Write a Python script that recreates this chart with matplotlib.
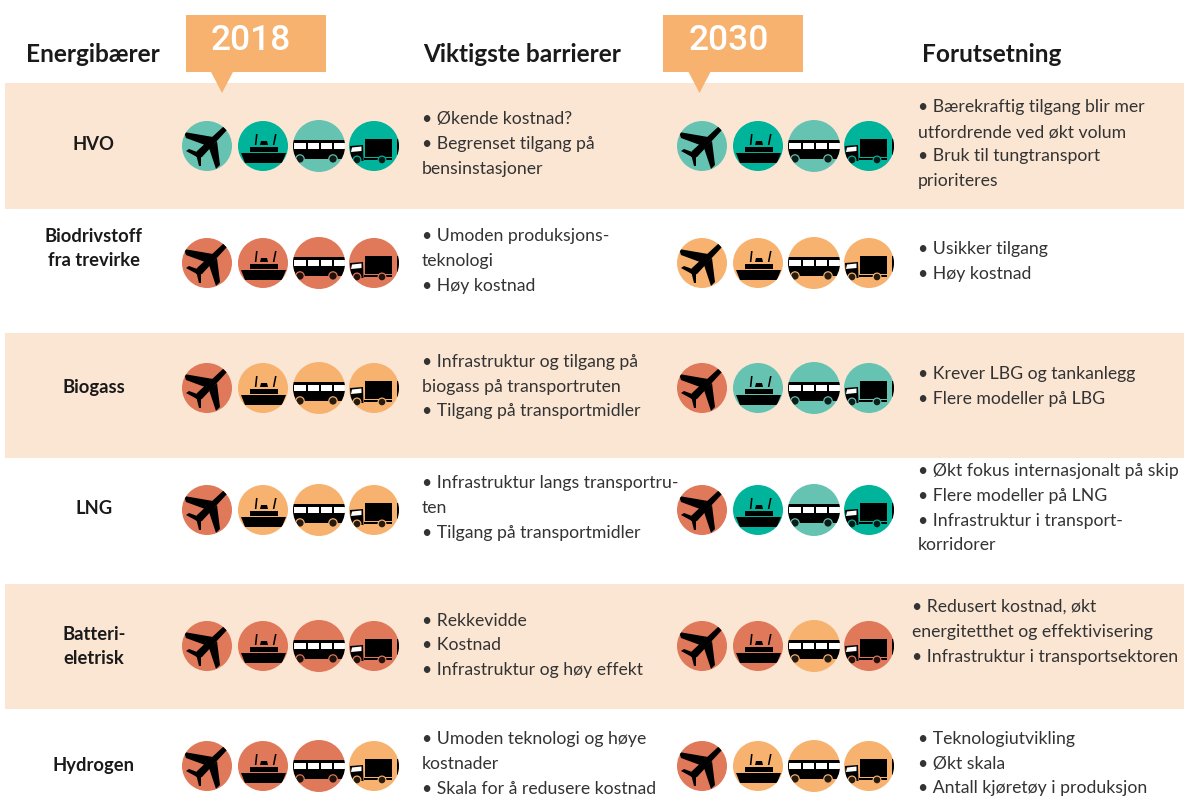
#!/usr/bin/env python3
import matplotlib

matplotlib.use("Agg")
import matplotlib.pyplot as plt
from matplotlib.patches import Circle, Polygon, Rectangle

plt.rcParams["font.family"] = ["Lato", "DejaVu Sans"]

# colours
L = "#66C3B1"  # light teal
T = "#00B39B"  # teal
O = "#F7B26F"  # orange
R = "#E0785A"  # red
BAND = "#FBE6D4"

carriers = ["HVO", "Biodrivstoff\nfra trevirke", "Biogass", "LNG", "Batteri-\neletrisk", "Hydrogen"]
carrier_y = [144, 248, 386, 508, 645, 764]

row_y = [146, 263, 388, 510, 646, 766]
colors_2018 = ["LTLT", "RRRR", "ROOO", "ROOO", "RRRR", "RRRO"]
colors_2030 = ["LTLT", "OOOO", "RLLL", "RTLT", "RROR", "ROOO"]

barriers = [
    (422, 118, "• Økende kostnad?"),
    (422, 143, "• Begrenset tilgang på"),
    (422, 168, "bensinstasjoner"),
    (422, 235, "• Umoden produksjons-"),
    (422, 260, "teknologi"),
    (422, 285, "• Høy kostnad"),
    (422, 361, "• Infrastruktur og tilgang på"),
    (422, 386, "biogass på transportruten"),
    (422, 410, "• Tilgang på transportmidler"),
    (422, 482, "• Infrastruktur langs transportru-"),
    (422, 507, "ten"),
    (422, 532, "• Tilgang på transportmidler"),
    (422, 620, "• Rekkevidde"),
    (422, 644, "• Kostnad"),
    (422, 669, "• Infrastruktur og høy effekt"),
    (422, 738, "• Umoden teknologi og høye"),
    (422, 763, "kostnader"),
    (422, 788, "• Skala for å redusere kostnad"),
]
premises = [
    (918, 106, "• Bærekraftig tilgang blir mer"),
    (918, 131, "utfordrende ved økt volum"),
    (918, 155, "• Bruk til tungtransport"),
    (918, 180, "prioriteres"),
    (918, 248, "• Usikker tilgang"),
    (918, 273, "• Høy kostnad"),
    (918, 373, "• Krever LBG og tankanlegg"),
    (918, 398, "• Flere modeller på LBG"),
    (918, 470, "• Økt fokus internasjonalt på skip"),
    (918, 495, "• Flere modeller på LNG"),
    (918, 520, "• Infrastruktur i transport-"),
    (918, 544, "korridorer"),
    (912, 606, "• Redusert kostnad, økt"),
    (912, 631, "energitetthet og effektivisering"),
    (912, 656, "• Infrastruktur i transportsektoren"),
    (918, 738, "• Teknologiutvikling"),
    (918, 763, "• Økt skala"),
    (918, 787, "• Antall kjøretøy i produksjon"),
]
headers = [(26, "Energibærer"), (423, "Viktigste barrierer"), (922, "Forutsetning")]

COLS = {"L": L, "T": T, "O": O, "R": R}

fig = plt.figure(figsize=(11.84, 7.96), dpi=100)
ax = fig.add_axes([0, 0, 1, 1])
ax.set_xlim(0, 1184)
ax.set_ylim(796, 0)
ax.axis("off")


def poly(pts, cx, cy, clip, color="black", z=3):
    p = Polygon([(cx + x, cy + y) for x, y in pts], closed=True, fc=color, ec="none", zorder=z)
    ax.add_patch(p)
    p.set_clip_path(clip)
    return p


def rect(x, y, w, h, cx, cy, clip, color="black", z=3):
    p = Rectangle((cx + x, cy + y), w, h, fc=color, ec="none", zorder=z)
    ax.add_patch(p)
    p.set_clip_path(clip)
    return p


def wheel(x, y, r, cx, cy, clip, color):
    # coloured ring cut out of the body, dark hub inside
    a = Circle((cx + x, cy + y), r + 1.2, fc=color, ec="none", zorder=5)
    b = Circle((cx + x, cy + y), r, fc="black", ec="none", alpha=0.85, zorder=6)
    ax.add_patch(a)
    ax.add_patch(b)
    a.set_clip_path(clip)
    b.set_clip_path(clip)


def plane(cx, cy, color):
    c = Circle((cx, cy), 25, fc=color, ec="none", zorder=2)
    ax.add_patch(c)
    poly([(16, -19), (19, -19), (20, -16), (-5, 11), (-9, 12), (-12, 9), (-10, 5)], cx, cy, c)
    poly([(-23, -14), (-21, -8), (-2, -1), (6, -9)], cx, cy, c)
    poly([(2, 2), (10, -5), (13, 19), (9, 23)], cx, cy, c)
    poly([(-21, 5), (-18, 3), (-7, 7), (-10, 11)], cx, cy, c)
    poly([(-11, 8), (-6, 11), (-6, 20), (-8, 20)], cx, cy, c)


def ship(cx, cy, color):
    c = Circle((cx, cy), 25, fc=color, ec="none", zorder=2)
    ax.add_patch(c)
    poly([(-22, 7), (23, 7), (19, 17), (-18, 17)], cx, cy, c)
    rect(-13, 1, 28, 4.5, cx, cy, c)
    poly([(-3, -1), (-2, -5), (4, -5), (5, -1)], cx, cy, c)
    poly([(-7, -12), (-5.4, -12), (-6.6, -1), (-8.2, -1)], cx, cy, c)
    poly([(12, -12), (13.6, -12), (11.4, -1), (9.8, -1)], cx, cy, c)


def bus(cx, cy, color):
    c = Circle((cx, cy), 26, fc=color, ec="none", zorder=2)
    ax.add_patch(c)
    rect(-27, -6, 54, 19, cx, cy, c)
    for wx, ww in [(-25, 12), (-11, 11), (2, 11), (15, 12)]:
        rect(wx, -3.3, ww, 6.3, cx, cy, c, color="white", z=4)
    wheel(-19, 13, 3.6, cx, cy, c, color)
    wheel(14, 13, 3.6, cx, cy, c, color)


def truck(cx, cy, color):
    c = Circle((cx, cy), 25, fc=color, ec="none", zorder=2)
    ax.add_patch(c)
    rect(-9, -7, 27, 18, cx, cy, c)
    rect(-10, 12, 28, 2, cx, cy, c)
    poly([(-24, 0), (-11, -1), (-10.5, 15), (-23, 15)], cx, cy, c)
    poly([(-22, 1.5), (-12.5, 0.5), (-12.5, 5), (-23, 6)], cx, cy, c, color="white", z=4)
    rect(23, -7, 2, 16, cx, cy, c)
    wheel(-17, 14, 3.3, cx, cy, c, color)
    wheel(8, 14, 3.3, cx, cy, c, color)


# bands
for y0, y1 in [(83, 209), (333, 458), (584, 709)]:
    ax.add_patch(Rectangle((5, y0), 1179, y1 - y0, fc=BAND, ec="none", zorder=1))

# year callouts
for x, y, w, tx, ty, tip, label in [
    (186, 15, 140, 251, 41, 222, "2018"),
    (663, 15, 140, 729, 41, 699.5, "2030"),
]:
    ax.add_patch(Rectangle((x, y), w, 57, fc=O, ec="none", zorder=6))
    ax.add_patch(Polygon([(tip - 11.5, 71), (tip + 11.5, 71), (tip, 93)], fc=O, ec="none", zorder=6))
    ax.text(tx, ty, label, color="white", fontsize=25.5, family="Roboto", fontweight="medium",
            ha="center", va="center", zorder=7)

for x, label in headers:
    ax.text(x, 54, label, fontsize=17.6, fontweight="bold", color="#1a1a1a", ha="left", va="center")

for label, y in zip(carriers, carrier_y):
    ax.text(94, y + 1, label, fontsize=13.2, fontweight="bold", color="#1a1a1a", ha="center", va="center",
            linespacing=1.5)

for x, y, s in barriers + premises:
    ax.text(x, y + 1, s, fontsize=12.7, color="#333333", ha="left", va="center")

icons = [plane, ship, bus, truck]
for y, c18, c30 in zip(row_y, colors_2018, colors_2030):
    for fn, x, k in zip(icons, [207, 263, 319, 374], c18):
        fn(x, y, COLS[k])
    for fn, x, k in zip(icons, [702, 758, 814, 869], c30):
        fn(x, y, COLS[k])

fig.savefig("out.png", dpi=100)
